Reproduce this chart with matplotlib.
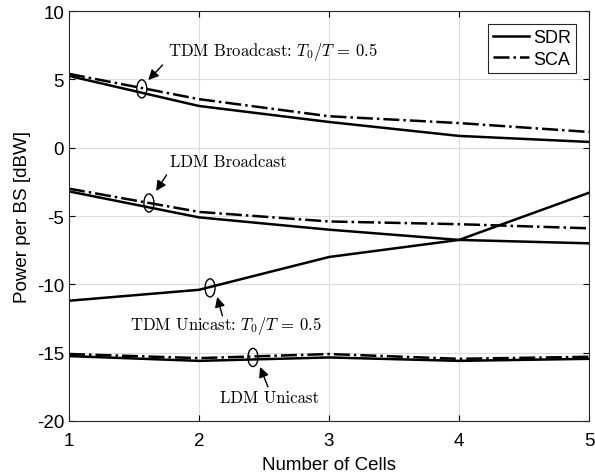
import numpy as np
import matplotlib
matplotlib.use("Agg")
import matplotlib.pyplot as plt
from matplotlib.patches import Ellipse

plt.rcParams['font.family'] = ['Liberation Sans', 'DejaVu Sans']
plt.rcParams['mathtext.fontset'] = 'cm'
plt.rcParams['axes.unicode_minus'] = False

# data
cells = [1, 2, 3, 4, 5]
tdm_bc_sdr = [5.25, 3.05, 1.88, 0.86, 0.42]
tdm_bc_sca = [5.4, 3.55, 2.3, 1.8, 1.15]
ldm_bc_sdr = [-3.2, -5.1, -6.0, -6.75, -7.0]
ldm_bc_sca = [-3.0, -4.7, -5.4, -5.6, -5.9]
tdm_uc_sdr = [-11.2, -10.4, -8.0, -6.75, -3.3]
ldm_uc_sdr = [-15.25, -15.6, -15.35, -15.6, -15.45]
ldm_uc_sca = [-15.1, -15.4, -15.1, -15.45, -15.3]

fig = plt.figure(figsize=(5.95, 4.77), dpi=100)
ax = fig.add_axes([69/595, 1-422/477, 520/595, 410/477])

lw = 1.8
ax.plot(cells, tdm_bc_sdr, 'k-', lw=lw, label='SDR')
ax.plot(cells, tdm_bc_sca, 'k-.', lw=lw, label='SCA')
ax.plot(cells, ldm_bc_sdr, 'k-', lw=lw)
ax.plot(cells, ldm_bc_sca, 'k-.', lw=lw)
ax.plot(cells, tdm_uc_sdr, 'k-', lw=lw)
ax.plot(cells, ldm_uc_sdr, 'k-', lw=lw)
ax.plot(cells, ldm_uc_sca, 'k-.', lw=lw)

ax.set_xlim(1, 5)
ax.set_ylim(-20, 10)
ax.set_xticks(cells)
ax.set_yticks(np.arange(-20, 11, 5))
ax.grid(True, color='#dddddd', lw=0.8)
ax.tick_params(direction='in', top=True, right=True, labelsize=13.5, length=4)
ax.tick_params(axis='x', pad=8)
for s in ax.spines.values():
    s.set_color('#262626')
ax.set_xlabel('Number of Cells', fontsize=13.5, labelpad=5)
ax.set_ylabel('Power per BS [dBW]', fontsize=13.5)

leg = ax.legend(loc='upper right', fontsize=13, fancybox=False, framealpha=1,
                edgecolor='#262626', handlelength=2.0, handletextpad=0.2,
                borderpad=0.3, labelspacing=0.25, borderaxespad=0.7)
leg.get_frame().set_linewidth(0.8)

# annotations: ellipse centre, arrow tail, arrow head, text position, text, alignment
notes = [
    ((1.56, 4.3), (1.72, 6.05), (1.61, 4.95), (1.76, 7.05), r'TDM Broadcast: $T_0/T\,=\,0.5$', 'left'),
    ((1.615, -4.05), (1.75, -2.0), (1.67, -3.17), (1.78, -1.0), 'LDM Broadcast', 'left'),
    ((2.085, -10.26), (2.18, -12.3), (2.14, -10.92), (2.21, -13.0), r'TDM Unicast: $T_0/T\,=\,0.5$', 'center'),
    ((2.415, -15.35), (2.53, -17.5), (2.47, -16.05), (2.54, -18.25), 'LDM Unicast', 'center'),
]
for (ex, ey), tail, head, (tx, ty), txt, ha in notes:
    ax.add_patch(Ellipse((ex, ey), 0.077, 1.33, fill=False, ec='k', lw=1.0, zorder=5))
    ax.annotate('', xy=head, xytext=tail,
                arrowprops=dict(arrowstyle='-|>', color='k', lw=1.0,
                                mutation_scale=15, shrinkA=0, shrinkB=0))
    ax.text(tx, ty, txt, ha=ha, va='center', fontsize=12, family='cmr10')

fig.savefig('out.png', dpi=100)
